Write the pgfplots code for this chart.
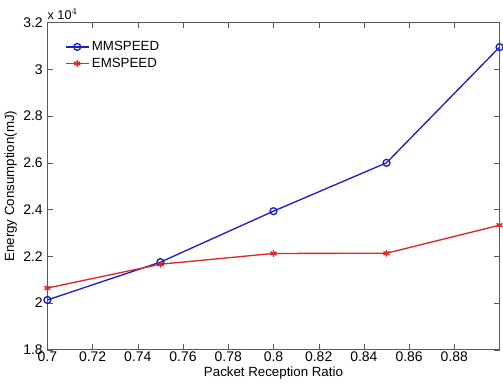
\documentclass[border=0pt]{standalone}
\usepackage{pgfplots}
\pgfplotsset{compat=1.18}
\usepackage{fontspec}
\setmainfont{Liberation Sans}
\definecolor{mblue}{RGB}{30,30,200}
\definecolor{mred}{RGB}{220,40,40}
\begin{document}
\begin{tikzpicture}
\begin{axis}[
  name=ax,
  scale only axis,
  width=340pt, height=246pt,
  xmin=0.7, xmax=0.9, ymin=1.8, ymax=3.2,
  xtick={0.7,0.72,0.74,0.76,0.78,0.8,0.82,0.84,0.86,0.88},
  ytick={1.8,2,2.2,2.4,2.6,2.8,3,3.2},
  xticklabels={0.7,0.72,0.74,0.76,0.78,0.8,0.82,0.84,0.86,0.88},
  yticklabels={1.8,2,2.2,2.4,2.6,2.8,3,3.2},
  tick align=inside,
  tick pos=both,
  major tick length=4pt,
  axis line style={gray!70!black},
  tick style={gray!70!black},
  ticklabel style={font=\fontsize{10.5}{12}\selectfont},
  xticklabel style={yshift=2pt},
  xlabel={Packet Reception Ratio},
  ylabel={Energy Consumption(mJ)},
  label style={font=\fontsize{10}{11}\selectfont},
  xlabel style={yshift=3pt},
  ylabel style={yshift=-2pt},
  legend style={draw=none, fill=none, at={(0.03,0.96)}, anchor=north west, font=\fontsize{10}{11}\selectfont},
  legend cell align=left,
]
\addplot[color=mblue, line width=1pt, mark=o, mark options={solid, scale=1.3}] coordinates {
(0.7,2.013) (0.75,2.175) (0.8,2.393) (0.85,2.600) (0.9,3.095)};
\addlegendentry{MMSPEED}
\addplot[color=mred, line width=1pt, mark=asterisk, mark options={solid, scale=1.3}] coordinates {
(0.7,2.064) (0.75,2.166) (0.8,2.212) (0.85,2.213) (0.9,2.333)};
\addlegendentry{EMSPEED}
\end{axis}
\node[anchor=south west, font=\fontsize{9.5}{10}\selectfont, inner sep=0pt] at ([yshift=2pt]ax.north west) {x 10$^{4}$};
\path[use as bounding box] ([yshift=17pt]ax.north west) -- ([yshift=17pt]ax.north east);
\end{tikzpicture}
\end{document}
